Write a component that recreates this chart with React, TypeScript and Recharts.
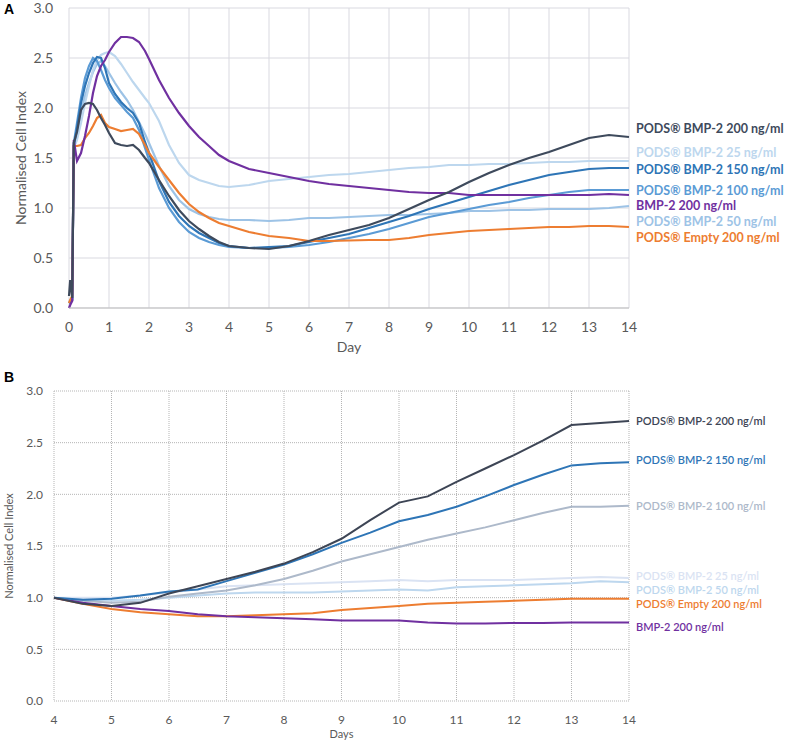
import React from "react";
import { LineChart, Line, XAxis, YAxis, CartesianGrid } from "recharts";

// ---- Panel A: day 0-14 ----
const daysA = [
  0, 0.03, 0.08, 0.12, 0.2, 0.3, 0.4, 0.5, 0.6, 0.7, 0.8, 0.9, 1.0, 1.15, 1.3, 1.45,
  1.6, 1.75, 1.9, 2.0, 2.25, 2.5, 2.75, 3.0, 3.25, 3.5, 3.75, 4, 4.5, 5, 5.5, 6, 6.5,
  7, 7.5, 8, 8.5, 9, 9.5, 10, 10.5, 11, 11.5, 12, 12.5, 13, 13.5, 14,
];
const a200 = [
  0.12, 0.28, 0.1, 1.65, 1.76, 1.98, 2.04, 2.05, 2.04, 1.98, 1.9, 1.83, 1.75, 1.65, 1.63, 1.62,
  1.63, 1.58, 1.5, 1.45, 1.28, 1.12, 0.98, 0.87, 0.79, 0.72, 0.66, 0.62, 0.6, 0.59, 0.62, 0.67, 0.73,
  0.78, 0.83, 0.9, 0.99, 1.08, 1.16, 1.26, 1.35, 1.43, 1.5, 1.56, 1.63, 1.7, 1.73, 1.71,
];
const a25 = [
  0.05, 0.08, 0.1, 1.6, 1.68, 1.85, 2.05, 2.22, 2.38, 2.48, 2.53, 2.55, 2.56, 2.52, 2.44, 2.35,
  2.26, 2.18, 2.1, 2.05, 1.87, 1.63, 1.45, 1.33, 1.28, 1.25, 1.22, 1.21, 1.23, 1.27, 1.29, 1.31, 1.33,
  1.34, 1.36, 1.38, 1.4, 1.41, 1.43, 1.43, 1.44, 1.44, 1.45, 1.46, 1.46, 1.47, 1.47, 1.47,
];
const a150 = [
  0.05, 0.06, 0.08, 1.62, 1.8, 2.05, 2.22, 2.35, 2.45, 2.51, 2.5, 2.4, 2.25, 2.14, 2.06, 2.0,
  1.95, 1.85, 1.66, 1.55, 1.27, 1.06, 0.92, 0.82, 0.75, 0.7, 0.65, 0.62, 0.6, 0.61, 0.62, 0.66, 0.7,
  0.74, 0.8, 0.86, 0.92, 0.99, 1.05, 1.11, 1.17, 1.23, 1.28, 1.33, 1.36, 1.39, 1.4, 1.4,
];
const a100 = [
  0.05, 0.06, 0.08, 1.65, 1.85, 2.1, 2.3, 2.42, 2.5, 2.47, 2.38, 2.28, 2.2, 2.1, 2.03, 1.96,
  1.9, 1.78, 1.6, 1.48, 1.2, 1.0, 0.86, 0.76, 0.7, 0.66, 0.63, 0.61, 0.6, 0.6, 0.61, 0.63, 0.66,
  0.7, 0.74, 0.79, 0.85, 0.91, 0.95, 0.99, 1.03, 1.06, 1.1, 1.13, 1.16, 1.18, 1.18, 1.18,
];
const aBmp = [
  0.0, 0.03, 0.07, 1.68, 1.47, 1.55, 1.72, 1.92, 2.15, 2.32, 2.42, 2.48, 2.56, 2.65, 2.71, 2.71,
  2.7, 2.66, 2.57, 2.49, 2.28, 2.1, 1.95, 1.82, 1.71, 1.62, 1.53, 1.47, 1.39, 1.35, 1.31, 1.27, 1.24,
  1.22, 1.2, 1.18, 1.16, 1.15, 1.15, 1.13, 1.13, 1.13, 1.13, 1.13, 1.13, 1.13, 1.14, 1.13,
];
const a50 = [
  0.05, 0.06, 0.08, 1.62, 1.75, 1.95, 2.12, 2.25, 2.36, 2.44, 2.47, 2.42, 2.35, 2.25, 2.16, 2.08,
  1.98, 1.86, 1.74, 1.65, 1.42, 1.22, 1.08, 0.99, 0.94, 0.91, 0.89, 0.88, 0.88, 0.87, 0.88, 0.9, 0.9,
  0.91, 0.92, 0.93, 0.93, 0.94, 0.95, 0.97, 0.97, 0.98, 0.98, 0.99, 0.99, 0.99, 1.0, 1.02,
];
const aEmpty = [
  0.05, 0.08, 0.12, 1.62, 1.62, 1.63, 1.7, 1.75, 1.82, 1.9, 1.93, 1.85, 1.81, 1.79, 1.77, 1.78,
  1.79, 1.74, 1.63, 1.55, 1.41, 1.28, 1.15, 1.04, 0.96, 0.9, 0.85, 0.82, 0.76, 0.72, 0.7, 0.67, 0.67,
  0.675, 0.68, 0.68, 0.7, 0.73, 0.75, 0.77, 0.78, 0.79, 0.8, 0.81, 0.81, 0.82, 0.82, 0.81,
];

// ---- Panel B: day 4-14, normalised at day 4 ----
const daysB = [4, 4.5, 5, 5.5, 6, 6.5, 7, 7.5, 8, 8.5, 9, 9.5, 10, 10.5, 11, 11.5, 12, 12.5, 13, 13.5, 14];
const b200 = [1.0, 0.94, 0.92, 0.95, 1.04, 1.11, 1.18, 1.25, 1.33, 1.44, 1.57, 1.75, 1.92, 1.98, 2.12, 2.25, 2.38, 2.52, 2.67, 2.69, 2.71];
const b150 = [1.0, 0.98, 0.99, 1.02, 1.06, 1.08, 1.16, 1.24, 1.32, 1.42, 1.53, 1.63, 1.74, 1.8, 1.88, 1.98, 2.09, 2.19, 2.28, 2.3, 2.31];
const b100 = [1.0, 0.97, 0.95, 0.96, 1.01, 1.04, 1.07, 1.12, 1.18, 1.26, 1.35, 1.42, 1.49, 1.56, 1.62, 1.68, 1.75, 1.82, 1.88, 1.88, 1.89];
const b25 = [1.0, 1.0, 1.0, 1.02, 1.05, 1.08, 1.11, 1.12, 1.13, 1.14, 1.15, 1.16, 1.17, 1.16, 1.17, 1.17, 1.17, 1.18, 1.19, 1.2, 1.19];
const b50 = [1.0, 0.98, 0.97, 0.98, 1.0, 1.02, 1.04, 1.05, 1.05, 1.05, 1.06, 1.07, 1.08, 1.07, 1.1, 1.11, 1.12, 1.13, 1.14, 1.16, 1.15];
const bEmpty = [1.0, 0.94, 0.89, 0.86, 0.84, 0.82, 0.82, 0.83, 0.84, 0.85, 0.88, 0.9, 0.92, 0.94, 0.95, 0.96, 0.97, 0.98, 0.99, 0.99, 0.99];
const bBmp = [1.0, 0.95, 0.92, 0.89, 0.87, 0.84, 0.82, 0.81, 0.8, 0.79, 0.78, 0.78, 0.78, 0.76, 0.75, 0.75, 0.755, 0.755, 0.76, 0.76, 0.76];

const ticksA = [0, 1, 2, 3, 4, 5, 6, 7, 8, 9, 10, 11, 12, 13, 14];
const ticksB = [4, 5, 6, 7, 8, 9, 10, 11, 12, 13, 14];
const yTicks = [0, 0.5, 1, 1.5, 2, 2.5, 3];

const dataA = daysA.map((day, i) => ({
  day,
  s200: a200[i],
  s25: a25[i],
  s150: a150[i],
  s100: a100[i],
  bmp: aBmp[i],
  s50: a50[i],
  empty: aEmpty[i],
}));

const dataB = daysB.map((day, i) => ({
  day,
  s200: b200[i],
  s150: b150[i],
  s100: b100[i],
  s25: b25[i],
  s50: b50[i],
  empty: bEmpty[i],
  bmp: bBmp[i],
}));

// series styling; dy nudges the end label away from its neighbours
const seriesA = [
  { key: "s50", name: "PODS® BMP-2 50 ng/ml", color: "#9dc3e6", dy: 15 },
  { key: "s25", name: "PODS® BMP-2 25 ng/ml", color: "#bdd7ee", dy: -9 },
  { key: "s100", name: "PODS® BMP-2 100 ng/ml", color: "#5b9bd5", dy: 0 },
  { key: "s150", name: "PODS® BMP-2 150 ng/ml", color: "#2e75b6", dy: 1 },
  { key: "empty", name: "PODS® Empty 200 ng/ml", color: "#ed7d31", dy: 10 },
  { key: "bmp", name: "BMP-2 200 ng/ml", color: "#7030a0", dy: 10 },
  { key: "s200", name: "PODS® BMP-2 200 ng/ml", color: "#3e4a5c", dy: -9 },
];

const seriesB = [
  { key: "s25", name: "PODS® BMP-2 25 ng/ml", color: "#dae3f3", dy: -3 },
  { key: "s50", name: "PODS® BMP-2 50 ng/ml", color: "#bdd7ee", dy: 7 },
  { key: "s100", name: "PODS® BMP-2 100 ng/ml", color: "#adb9ca", dy: 0 },
  { key: "empty", name: "PODS® Empty 200 ng/ml", color: "#ed7d31", dy: 5 },
  { key: "bmp", name: "BMP-2 200 ng/ml", color: "#7030a0", dy: 4 },
  { key: "s150", name: "PODS® BMP-2 150 ng/ml", color: "#2e75b6", dy: -3 },
  { key: "s200", name: "PODS® BMP-2 200 ng/ml", color: "#3d4555", dy: 0 },
];

const FONT = "Lato, 'Open Sans', sans-serif";
const TICK = "#595959";

const endLabel =
  (text: string, color: string, dy: number, last: number, size: number, weight: number) =>
  (p: any) => {
    if (p.index !== last) return <g key={p.key} />;
    return (
      <text
        key={p.key}
        x={p.cx + 7}
        y={p.cy + dy}
        dominantBaseline="central"
        fill={color}
        fontSize={size}
        fontWeight={weight}
        fontFamily={FONT}
      >
        {text}
      </text>
    );
  };

const YLabel = (props: any) => {
  const { viewBox, text, cx, size } = props;
  const cy = viewBox.y + viewBox.height / 2;
  return (
    <text
      x={cx}
      y={cy}
      transform={`rotate(-90 ${cx} ${cy})`}
      textAnchor="middle"
      dominantBaseline="central"
      fontSize={size}
      fill={TICK}
      fontFamily={FONT}
    >
      {text}
    </text>
  );
};

const panelLetter: React.CSSProperties = {
  position: "absolute",
  left: 4,
  fontFamily: "'Liberation Sans', Arial, sans-serif",
  fontWeight: 700,
  fontSize: 14,
  color: "#000",
};

export default function App() {
  return (
    <div style={{ position: "absolute", left: 0, top: 0, width: 789, height: 745, background: "#fff" }}>
      <div style={{ ...panelLetter, top: 1 }}>A</div>
      <div style={{ ...panelLetter, top: 369 }}>B</div>

      <div style={{ position: "absolute", left: 0, top: 0 }}>
        <LineChart width={789} height={358} data={dataA} margin={{ top: 8, right: 160, left: 0, bottom: 0 }}>
          <CartesianGrid stroke="#d9d9e0" />
          <XAxis
            dataKey="day"
            type="number"
            domain={[0, 14]}
            ticks={ticksA}
            interval={0}
            height={50}
            axisLine={{ stroke: "#bfbfbf" }}
            tickLine={false}
            tickSize={0}
            tickMargin={14}
            tick={{ fontSize: 14, fill: TICK, fontFamily: FONT }}
            label={{ value: "Day", position: "insideBottom", offset: 6, fontSize: 14, fill: TICK, fontFamily: FONT }}
          />
          <YAxis
            type="number"
            domain={[0, 3]}
            ticks={yTicks}
            width={69}
            axisLine={false}
            tickLine={false}
            tickSize={0}
            tickMargin={16}
            tickFormatter={(v: number) => v.toFixed(1)}
            tick={{ fontSize: 14, fill: TICK, fontFamily: FONT }}
            label={<YLabel text="Normalised Cell Index" cx={20} size={14} />}
          />
          {seriesA.map((s) => (
            <Line
              key={s.key}
              dataKey={s.key}
              type="linear"
              stroke={s.color}
              strokeWidth={2.2}
              dot={endLabel(s.name, s.color, s.dy, daysA.length - 1, 12.5, 700)}
              activeDot={false}
              isAnimationActive={false}
            />
          ))}
        </LineChart>
      </div>

      <div style={{ position: "absolute", left: 0, top: 360 }}>
        <LineChart width={789} height={385} data={dataB} margin={{ top: 31, right: 160, left: 0, bottom: 0 }}>
          <CartesianGrid stroke="#b5b5b5" strokeDasharray="1 1" />
          <XAxis
            dataKey="day"
            type="number"
            domain={[4, 14]}
            ticks={ticksB}
            interval={0}
            height={44}
            axisLine={false}
            tickLine={false}
            tickSize={0}
            tickMargin={14}
            tick={{ fontSize: 12, fill: TICK, fontFamily: FONT }}
            label={{ value: "Days", position: "insideBottom", offset: 7, fontSize: 11, fill: TICK, fontFamily: FONT }}
          />
          <YAxis
            type="number"
            domain={[0, 3]}
            ticks={yTicks}
            width={54}
            axisLine={false}
            tickLine={false}
            tickSize={0}
            tickMargin={11}
            tickFormatter={(v: number) => v.toFixed(1)}
            tick={{ fontSize: 12, fill: TICK, fontFamily: FONT }}
            label={<YLabel text="Normalised Cell Index" cx={8} size={11} />}
          />
          {seriesB.map((s) => (
            <Line
              key={s.key}
              dataKey={s.key}
              type="linear"
              stroke={s.color}
              strokeWidth={2}
              dot={endLabel(s.name, s.color, s.dy, daysB.length - 1, 11, 600)}
              activeDot={false}
              isAnimationActive={false}
            />
          ))}
        </LineChart>
      </div>
    </div>
  );
}
